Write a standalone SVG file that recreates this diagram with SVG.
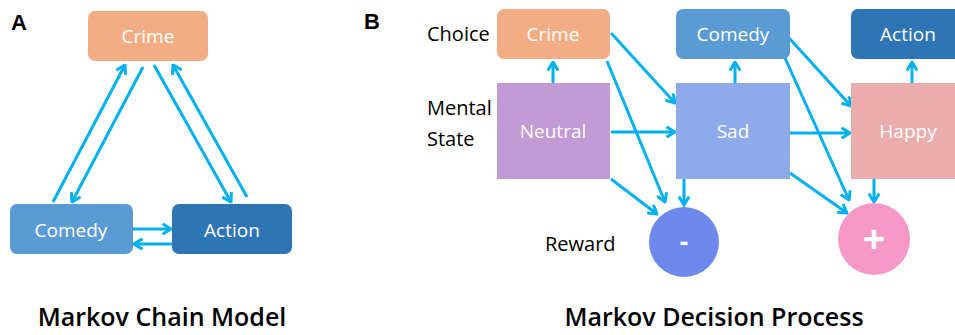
<svg xmlns="http://www.w3.org/2000/svg" width="955" height="335" viewBox="0 0 955 335">
<defs>
<style>
.lbl{font-family:"Open Sans","Noto Sans",sans-serif;fill:#000;}
.ttl{font-family:"Open Sans","Noto Sans",sans-serif;fill:#000;font-size:25px;font-weight:600;text-anchor:middle;}
.nt{font-family:"Open Sans","Noto Sans",sans-serif;fill:#fff;font-size:19px;text-anchor:middle;}
.pl{font-family:"Liberation Sans",Arial,sans-serif;font-weight:bold;font-size:22px;fill:#000;}
.ar{stroke:#00b0f0;stroke-width:3;fill:none;marker-end:url(#ah);}
</style>
<marker id="ah" viewBox="0 0 12 12" refX="10.5" refY="6" markerWidth="12" markerHeight="12" markerUnits="userSpaceOnUse" orient="auto">
<path d="M2,0.8 L10.5,6 L2,11.2" fill="none" stroke="#00b0f0" stroke-width="3"/>
</marker>
</defs>
<rect width="955" height="335" fill="#fff"/>
<text class="pl" x="11" y="30">A</text>
<text class="pl" x="364" y="29">B</text>

<g id="connectors">
<line class="ar" x1="53" y1="202" x2="125" y2="65"/>
<line class="ar" x1="143" y1="67" x2="72" y2="202"/>
<line class="ar" x1="154" y1="65" x2="231" y2="202"/>
<line class="ar" x1="247" y1="197" x2="173" y2="65"/>
<line class="ar" x1="133" y1="229" x2="171" y2="229"/>
<line class="ar" x1="172" y1="244" x2="134" y2="244"/>

<line class="ar" x1="553" y1="83" x2="553" y2="62"/>
<line class="ar" x1="735" y1="83" x2="735" y2="62"/>
<line class="ar" x1="912" y1="83" x2="912" y2="62"/>
<line class="ar" x1="611" y1="33" x2="675" y2="103"/>
<line class="ar" x1="607" y1="61" x2="665" y2="202"/>
<line class="ar" x1="611" y1="132" x2="675" y2="132"/>
<line class="ar" x1="611" y1="179" x2="657" y2="214"/>
<line class="ar" x1="684" y1="179" x2="684" y2="205"/>
<line class="ar" x1="789" y1="38" x2="851" y2="106"/>
<line class="ar" x1="785" y1="58" x2="849" y2="200"/>
<line class="ar" x1="790" y1="133" x2="850" y2="133"/>
<line class="ar" x1="790" y1="173" x2="847" y2="213"/>
<line class="ar" x1="874" y1="179" x2="874" y2="202"/>
</g>

<g id="a-crime"><rect x="88" y="11" width="120" height="50" rx="7" fill="#f2ad84"/><text class="nt" x="148" y="43">Crime</text></g>
<g id="a-comedy"><rect x="10" y="204" width="123" height="50" rx="7" fill="#5b9bd5"/><text class="nt" x="71" y="237">Comedy</text></g>
<g id="a-action"><rect x="172" y="204" width="120" height="50" rx="7" fill="#2e75b6"/><text class="nt" x="232" y="237">Action</text></g>
<text class="ttl" x="162" y="326">Markov Chain Model</text>

<text class="lbl" x="427" y="41" font-size="20">Choice</text>
<text class="lbl" x="427" y="115" font-size="20">Mental</text>
<text class="lbl" x="427" y="146" font-size="20">State</text>
<text class="lbl" x="545" y="251" font-size="20">Reward</text>

<g id="b-crime"><rect x="497" y="9" width="113" height="50" rx="7" fill="#f2ad84"/><text class="nt" x="553" y="41">Crime</text></g>
<g id="b-comedy"><rect x="676" y="9" width="114" height="50" rx="7" fill="#5b9bd5"/><text class="nt" x="733" y="41">Comedy</text></g>
<g id="b-action"><rect x="851" y="9" width="114" height="50" rx="7" fill="#2e75b6"/><text class="nt" x="908" y="41">Action</text></g>
<g id="b-neutral"><rect x="497" y="83" width="113" height="96" fill="#c29ad6"/><text class="nt" x="553" y="138">Neutral</text></g>
<g id="b-sad"><rect x="676" y="83" width="114" height="96" fill="#8eaaeb"/><text class="nt" x="733" y="138">Sad</text></g>
<g id="b-happy"><rect x="851" y="83" width="114" height="96" fill="#ebacac"/><text class="nt" x="908" y="138">Happy</text></g>
<g id="b-minus"><circle cx="684" cy="242" r="35" fill="#6e88ee"/><text class="nt" x="684" y="251" style="font-size:26px;font-weight:bold">-</text></g>
<g id="b-plus"><circle cx="874" cy="239" r="36" fill="#f598c8"/><text class="nt" x="874" y="253" style="font-size:40px;font-weight:bold">+</text></g>
<text class="ttl" x="714" y="326">Markov Decision Process</text>
</svg>
